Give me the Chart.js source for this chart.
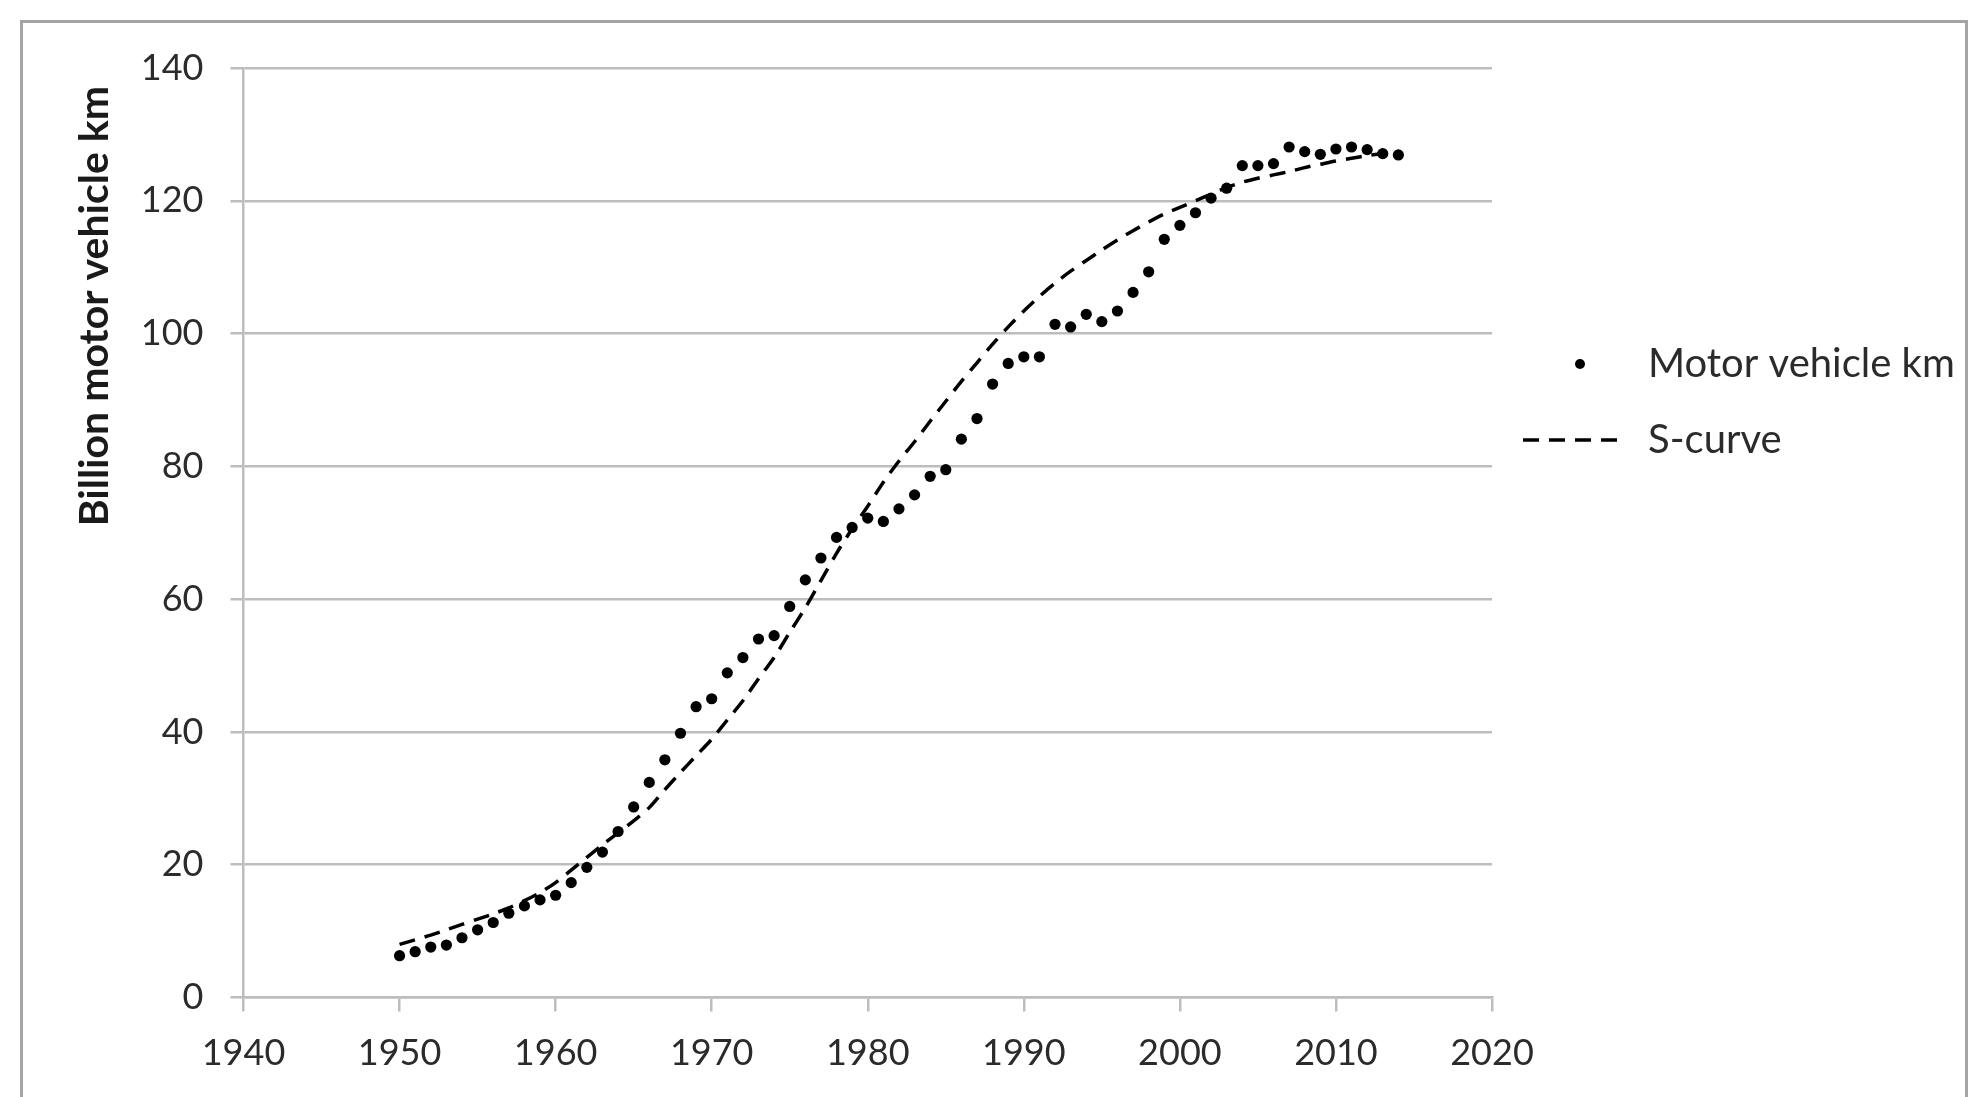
<!DOCTYPE html>
<html>
<head>
<meta charset="utf-8">
<title>Motor vehicle km and S-curve</title>
<script src="https://cdn.jsdelivr.net/npm/chart.js@4.4.1/dist/chart.umd.min.js"></script>
<style>
  html, body { margin: 0; padding: 0; background: #fff; overflow: hidden; }
  #wrap { position: relative; width: 1983px; height: 1097px; }
  #frame { position: absolute; left: 20px; top: 20px; width: 1948px; height: 1200px;
           border: 3px solid #a5a5a5; box-sizing: border-box; }
  #chart { position: absolute; left: 0; top: 0; }
</style>
</head>
<body>
<div id="wrap">
  <div id="frame"></div>
  <canvas id="chart" width="1983" height="1097"></canvas>
</div>
<script>
// Years on the x axis
const years = [
  1950, 1951, 1952, 1953, 1954, 1955, 1956, 1957, 1958, 1959,
  1960, 1961, 1962, 1963, 1964, 1965, 1966, 1967, 1968, 1969,
  1970, 1971, 1972, 1973, 1974, 1975, 1976, 1977, 1978, 1979,
  1980, 1981, 1982, 1983, 1984, 1985, 1986, 1987, 1988, 1989,
  1990, 1991, 1992, 1993, 1994, 1995, 1996, 1997, 1998, 1999,
  2000, 2001, 2002, 2003, 2004, 2005, 2006, 2007, 2008, 2009,
  2010, 2011, 2012, 2013, 2014
];

// Billion motor vehicle km (dots)
const vehicleKm = [
  6.3, 6.9, 7.6, 7.9, 9.0, 10.2, 11.3, 12.7, 13.8, 14.7,
  15.4, 17.3, 19.6, 21.9, 25.0, 28.7, 32.4, 35.8, 39.8, 43.8,
  45.0, 48.9, 51.2, 54.0, 54.5, 58.9, 62.9, 66.2, 69.3, 70.8,
  72.2, 71.7, 73.6, 75.7, 78.5, 79.5, 84.1, 87.2, 92.4, 95.5,
  96.5, 96.5, 101.4, 101.0, 102.9, 101.8, 103.4, 106.2, 109.3, 114.2,
  116.3, 118.2, 120.4, 121.9, 125.3, 125.3, 125.6, 128.1, 127.4, 127.0,
  127.8, 128.1, 127.7, 127.1, 126.9
];

// Fitted S-curve (dashed line)
const sCurve = [
  8.0, 8.7, 9.4, 10.2, 11.0, 11.8, 12.6, 13.5, 14.6, 15.8,
  17.3, 19.2, 21.1, 23.0, 24.8, 26.6, 28.6, 31.3, 33.9, 36.4,
  38.9, 41.8, 44.7, 48.0, 51.2, 55.0, 58.7, 62.8, 66.9, 70.6,
  74.0, 77.6, 80.8, 83.7, 86.8, 89.8, 92.8, 95.6, 98.4, 101.0,
  103.4, 105.6, 107.6, 109.4, 111.0, 112.6, 114.1, 115.5, 116.8, 118.0,
  119.0, 120.0, 121.0, 122.0, 122.8, 123.4, 123.9, 124.4, 125.0, 125.5,
  126.0, 126.4, 126.8, 127.1, 127.4
];

const xTicks = [1940, 1950, 1960, 1970, 1980, 1990, 2000, 2010, 2020];
const yTicks = [0, 20, 40, 60, 80, 100, 120, 140];
const yTitle = "Billion motor vehicle km";

const gridColor = "#bdbdbd";
const textColor = "#2b2b2b";

// y title sits a little below the top of the axis in the original
const yTitlePlugin = {
  id: "yTitle",
  afterDraw(chart) {
    const { ctx, chartArea } = chart;
    ctx.save();
    ctx.translate(95, chartArea.top + 18);
    ctx.rotate(-Math.PI / 2);
    ctx.font = "bold 41px Lato";
    ctx.fillStyle = "#1a1a1a";
    ctx.textAlign = "right";
    ctx.textBaseline = "middle";
    ctx.fillText(yTitle, 0, 0);
    ctx.restore();
  }
};

// legend drawn at the right of the plot, like the Excel one
const sideLegend = {
  id: "sideLegend",
  afterDraw(chart) {
    const { ctx, chartArea } = chart;
    const ds = chart.data.datasets;
    const x0 = chartArea.right;
    ctx.save();
    ctx.font = "40px Lato";
    ctx.textBaseline = "middle";

    let y = chartArea.top + 296;
    ctx.fillStyle = ds[0].pointBackgroundColor;
    ctx.beginPath();
    ctx.arc(x0 + 88, y, 5, 0, Math.PI * 2);
    ctx.fill();
    ctx.fillStyle = textColor;
    ctx.fillText(ds[0].label, x0 + 156, y);

    y = chartArea.top + 372;
    ctx.strokeStyle = ds[1].borderColor;
    ctx.lineWidth = ds[1].borderWidth;
    ctx.setLineDash(ds[1].borderDash);
    ctx.beginPath();
    ctx.moveTo(x0 + 31, y);
    ctx.lineTo(x0 + 134, y);
    ctx.stroke();
    ctx.setLineDash([]);
    ctx.fillText(ds[1].label, x0 + 156, y);
    ctx.restore();
  }
};

const ctx = document.getElementById("chart").getContext("2d");

new Chart(ctx, {
  type: "scatter",
  data: {
    datasets: [
      {
        label: "Motor vehicle km",
        data: years.map((yr, i) => ({ x: yr, y: vehicleKm[i] })),
        showLine: false,
        pointRadius: 5.6,
        pointHoverRadius: 5.6,
        pointBackgroundColor: "#000",
        pointBorderColor: "#000",
        pointBorderWidth: 0,
        order: 2
      },
      {
        label: "S-curve",
        data: years.map((yr, i) => ({ x: yr, y: sCurve[i] })),
        showLine: true,
        borderColor: "#000",
        borderWidth: 3.5,
        borderDash: [16, 10],
        pointRadius: 0,
        tension: 0.3,
        fill: false,
        order: 1
      }
    ]
  },
  options: {
    responsive: false,
    animation: false,
    layout: { padding: { left: 0, top: 68, right: 491, bottom: 0 } },
    plugins: {
      legend: { display: false },
      tooltip: { enabled: false }
    },
    scales: {
      x: {
        type: "linear",
        min: 1940,
        max: 2020,
        afterBuildTicks: s => { s.ticks = xTicks.map(v => ({ value: v })); },
        afterFit: s => { s.height = 99.5; },
        grid: { drawOnChartArea: false, drawTicks: true, tickLength: 14, color: gridColor, lineWidth: 2.5 },
        border: { display: true, color: gridColor, width: 2.5 },
        ticks: {
          font: { family: "Lato", size: 36 },
          color: textColor,
          padding: 20,
          maxRotation: 0,
          autoSkip: false,
          callback: v => String(v)
        }
      },
      y: {
        min: 0,
        max: 140,
        afterBuildTicks: s => { s.ticks = yTicks.map(v => ({ value: v })); },
        afterFit: s => { s.width = 243.5; },
        grid: { color: gridColor, lineWidth: 2.5, tickLength: 13, drawTicks: true },
        border: { display: true, color: gridColor, width: 2.5 },
        ticks: {
          font: { family: "Lato", size: 36 },
          color: textColor,
          padding: 27,
          callback: v => String(v)
        }
      }
    }
  },
  plugins: [yTitlePlugin, sideLegend]
});
</script>
</body>
</html>
